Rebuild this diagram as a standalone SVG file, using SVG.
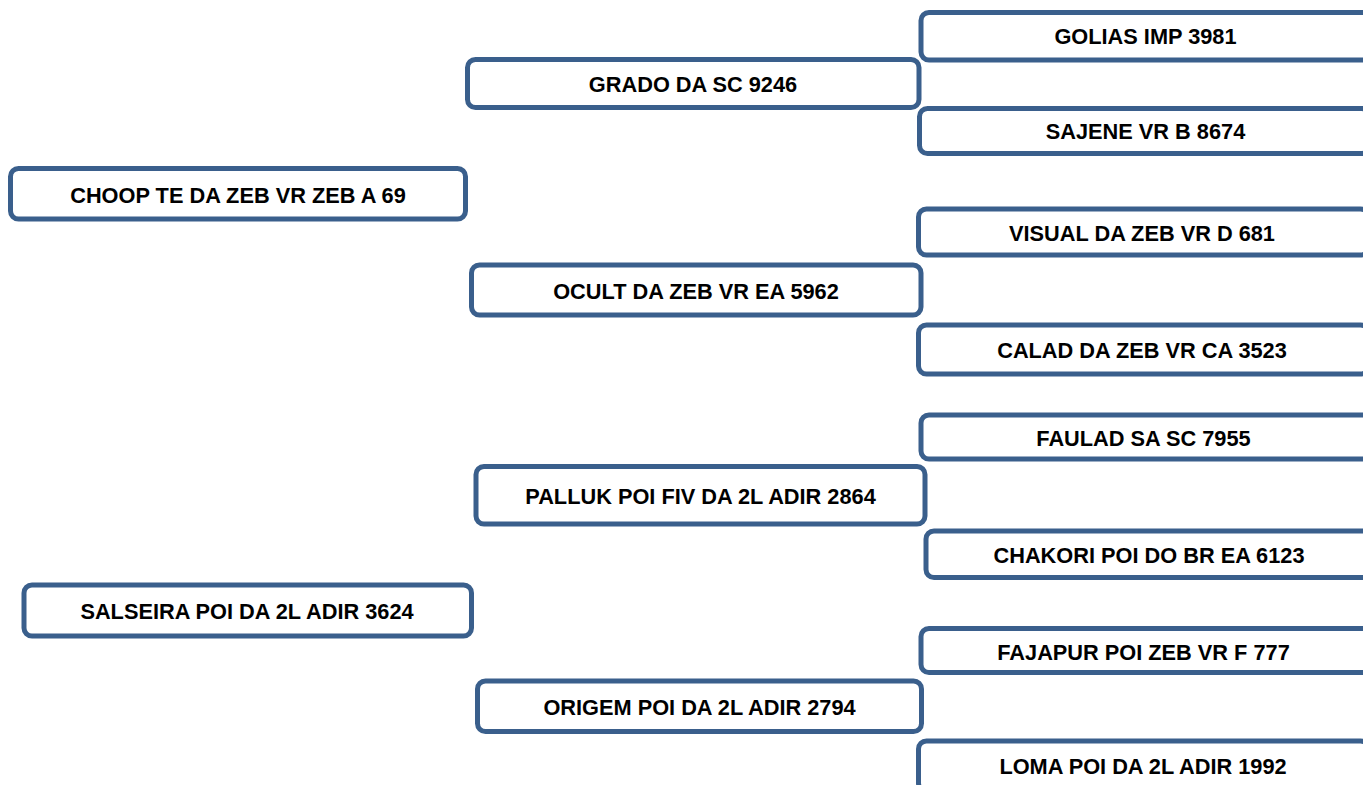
<svg xmlns="http://www.w3.org/2000/svg" width="1363" height="785" viewBox="0 0 1363 785">
<style>
.box{fill:#ffffff;stroke:#3A5F8C;stroke-width:5;}
.lbl{font-family:"Liberation Sans",Arial,sans-serif;font-weight:bold;font-size:21.75px;fill:#000000;text-anchor:middle;}
</style>
<rect width="1363" height="785" fill="#ffffff"/>
<g id="connectors"/>
<g id="n-choop"><rect class="box" x="10.5" y="168.5" width="455" height="50.5" rx="8"/><text class="lbl" x="238" y="203">CHOOP TE DA ZEB VR ZEB A 69</text></g>
<g id="n-grado"><rect class="box" x="467.5" y="59.5" width="451.5" height="48" rx="8"/><text class="lbl" x="693" y="92">GRADO DA SC 9246</text></g>
<g id="n-golias"><rect class="box" x="921" y="12.5" width="450" height="47.5" rx="8"/><text class="lbl" x="1145.5" y="44">GOLIAS IMP 3981</text></g>
<g id="n-sajene"><rect class="box" x="919.5" y="108.5" width="450" height="45" rx="8"/><text class="lbl" x="1145.5" y="139">SAJENE VR B 8674</text></g>
<g id="n-ocult"><rect class="box" x="471.5" y="265" width="449.5" height="50" rx="8"/><text class="lbl" x="696" y="299">OCULT DA ZEB VR EA 5962</text></g>
<g id="n-visual"><rect class="box" x="918.5" y="209" width="450" height="46" rx="8"/><text class="lbl" x="1142" y="240.5">VISUAL DA ZEB VR D 681</text></g>
<g id="n-calad"><rect class="box" x="918.5" y="325" width="450" height="49" rx="8"/><text class="lbl" x="1142" y="357.5">CALAD DA ZEB VR CA 3523</text></g>
<g id="n-salseira"><rect class="box" x="24" y="585" width="447.5" height="51" rx="8"/><text class="lbl" x="247" y="619">SALSEIRA POI DA 2L ADIR 3624</text></g>
<g id="n-palluk"><rect class="box" x="476" y="466.5" width="449" height="57.5" rx="8"/><text class="lbl" x="700.5" y="503.5">PALLUK POI FIV DA 2L ADIR 2864</text></g>
<g id="n-faulad"><rect class="box" x="921" y="415" width="450" height="44" rx="8"/><text class="lbl" x="1143.5" y="445.5">FAULAD SA SC 7955</text></g>
<g id="n-chakori"><rect class="box" x="926" y="531" width="450" height="46.5" rx="8"/><text class="lbl" x="1149" y="562.5">CHAKORI POI DO BR EA 6123</text></g>
<g id="n-origem"><rect class="box" x="477.5" y="681" width="444" height="50.5" rx="8"/><text class="lbl" x="699.5" y="714.5">ORIGEM POI DA 2L ADIR 2794</text></g>
<g id="n-fajapur"><rect class="box" x="921" y="628.5" width="450" height="44" rx="8"/><text class="lbl" x="1143.5" y="659.5">FAJAPUR POI ZEB VR F 777</text></g>
<g id="n-loma"><rect class="box" x="918.5" y="741" width="450" height="50" rx="8"/><text class="lbl" x="1143" y="773.5">LOMA POI DA 2L ADIR 1992</text></g>
</svg>
